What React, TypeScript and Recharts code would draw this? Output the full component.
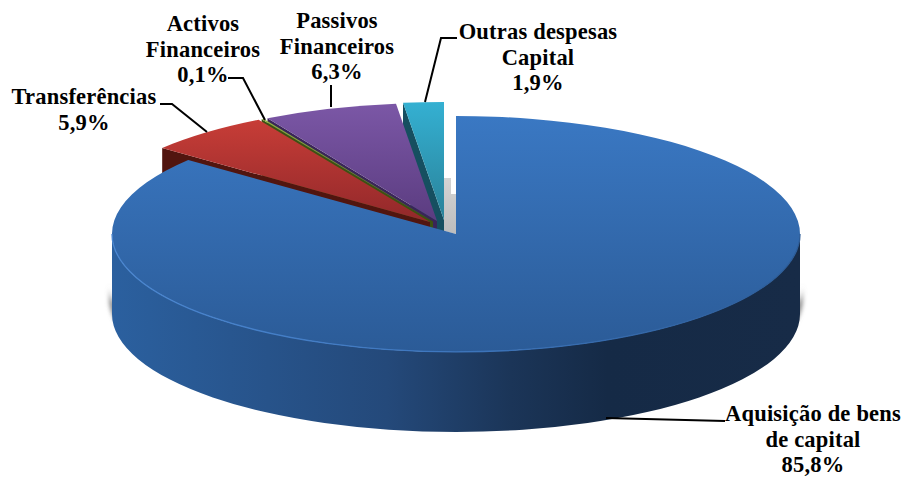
import { PieChart, Pie } from "recharts";

const sliceNames = ["Outras despesas Capital", "Passivos Financeiros", "Activos Financeiros", "Transferências", "Aquisição de bens de capital"];
const sliceValues = [1.9, 6.3, 0.1, 5.9, 85.8];

const data = sliceNames.map((name, i) => ({ name, value: sliceValues[i] }));

const WIDTH = 905;
const HEIGHT = 477;
const CX = 456;
const CY = 234;
const RX = 344;
const SQUASH = 0.343;
const DEPTH = 80;

// slice look, same order as the data
const offsets = [[-12, -14], [-19, -13], [-23, -12.5], [-26, -12], [0, 0]];
const ids = ["teal", "purple", "green", "red", "blue"];
const topColors = [["#34b0d2", "#2a8299"], ["#7b57a6", "#5b3c80"], ["#8fb33c", "#5c7a24"], ["#c73d37", "#92282a"], ["#3a78c3", "#2b5b97"]];
const faceColors = ["#164f60", "#3a2558", "#3c5212", "#51150f", "#1f4a7e"];

const labelLines = [
  ["Outras despesas", "Capital"],
  ["Passivos", "Financeiros"],
  ["Activos", "Financeiros"],
  ["Transferências"],
  ["Aquisição de bens", "de capital"],
];
const labelAnchors = [[538, 39], [337, 28], [203, 31], [84, 104], [813, 421]];
const leaders = [
  "457,38 441,38 425,102",
  "331,85 331,107",
  "228,78 243,78 265,120",
  "160,104 172,104 207,132",
  "725,421 606,418",
];

const LINE_H = 25.5;

function point(cx: number, cy: number, rx: number, angle: number) {
  const rad = (angle * Math.PI) / 180;
  return [cx + rx * Math.cos(rad), cy - rx * SQUASH * Math.sin(rad)];
}

function Slice(props: any) {
  const { startAngle, endAngle, index } = props;
  const i = index ?? sliceNames.indexOf(props.name);
  const cx = props.cx + offsets[i][0];
  const cy = props.cy + offsets[i][1];
  const rx = props.outerRadius;
  const ry = rx * SQUASH;
  const [sx, sy] = point(cx, cy, rx, startAngle);
  const [ex, ey] = point(cx, cy, rx, endAngle);
  const large = endAngle - startAngle > 180 ? 1 : 0;
  const top = `M${cx},${cy} L${sx},${sy} A${rx},${ry} 0 ${large} 0 ${ex},${ey} Z`;
  const face = `M${cx},${cy} L${ex},${ey} L${ex},${ey + DEPTH} L${cx},${cy + DEPTH} Z`;

  // front wall only exists on the lower half of the ellipse
  const wallFrom = Math.max(startAngle, 180);
  const wallTo = Math.min(endAngle, 360);
  let wall = null;
  if (wallTo > wallFrom) {
    const [ax, ay] = point(cx, cy, rx, wallFrom);
    const [bx, by] = point(cx, cy, rx, wallTo);
    const arcTop = `M${ax},${ay} A${rx},${ry} 0 0 0 ${bx},${by}`;
    const body = `${arcTop} L${bx},${by + DEPTH} A${rx},${ry} 0 0 1 ${ax},${ay + DEPTH} Z`;
    wall = (
      <g>
        <path
          d={`M${ax - 3},${ay + DEPTH * 0.6} A${rx + 3},${ry + 3} 0 0 0 ${bx + 3},${by + DEPTH * 0.6} L${bx + 3},${by + DEPTH * 0.8} A${rx + 3},${ry + 3} 0 0 1 ${ax - 3},${ay + DEPTH * 0.8} Z`}
          fill="url(#shadowFade)"
          filter="url(#pieShadow)"
        />
        <path d={body} fill="url(#wallBlue)" />
      </g>
    );
  }

  return (
    <g>
      {wall}
      <path d={face} fill={faceColors[i]} />
      <path d={top} fill={`url(#top-${ids[i]})`} />
      {wall && (
        <path
          d={`M${point(cx, cy, rx, wallFrom).join(",")} A${rx},${ry} 0 0 0 ${point(cx, cy, rx, wallTo).join(",")}`}
          fill="none"
          stroke="url(#rimBlue)"
          strokeWidth={1.3}
        />
      )}
    </g>
  );
}

function SliceLabel(props: any) {
  const i = props.index;
  const [x, y] = labelAnchors[i];
  const percent = `${sliceValues[i].toFixed(1).replace(".", ",")}%`;
  const lines = [...labelLines[i], percent];
  return (
    <g>
      <polyline points={leaders[i]} fill="none" stroke="#000" strokeWidth={2} />
      <text
        textAnchor="middle"
        fontFamily="'Liberation Serif', serif"
        fontWeight={700}
        fontSize={22.5}
        letterSpacing={0.2}
        fill="#000"
      >
        {lines.map((line, k) => (
          <tspan key={k} x={x} y={y + k * LINE_H}>
            {line}
          </tspan>
        ))}
      </text>
    </g>
  );
}

export default function App() {
  return (
    <div style={{ position: "absolute", left: 0, top: 0, width: WIDTH, height: HEIGHT, background: "#fff" }}>
      <PieChart width={WIDTH} height={HEIGHT} margin={{ top: 0, right: 0, bottom: 0, left: 0 }}>
        <defs>
          {ids.map((id, i) => (
            <linearGradient key={id} id={`top-${id}`} x1="0" y1="0" x2="0" y2="1">
              <stop offset="0" stopColor={topColors[i][0]} />
              <stop offset="1" stopColor={topColors[i][1]} />
            </linearGradient>
          ))}
          <linearGradient id="wallBlue" x1="0" y1="0" x2="1" y2="0">
            <stop offset="0" stopColor="#2b609f" />
            <stop offset="0.4" stopColor="#24497a" />
            <stop offset="0.58" stopColor="#1b3558" />
            <stop offset="0.72" stopColor="#152a46" />
            <stop offset="1" stopColor="#172b47" />
          </linearGradient>
          <linearGradient id="rimBlue" x1="0" y1="0" x2="1" y2="0">
            <stop offset="0" stopColor="#4a86d0" />
            <stop offset="0.45" stopColor="#3f78c0" />
            <stop offset="1" stopColor="#2b5b97" />
          </linearGradient>
          <linearGradient id="gapShadow" x1="0" y1="0" x2="0" y2="1">
            <stop offset="0" stopColor="#d4d4d4" />
            <stop offset="1" stopColor="#bdbdbd" />
          </linearGradient>
          <linearGradient id="shadowFade" x1="0" y1="0" x2="0" y2="1">
            <stop offset="0" stopColor="#8a8a8a" stopOpacity={0} />
            <stop offset="0.15" stopColor="#8a8a8a" stopOpacity={1} />
            <stop offset="1" stopColor="#8a8a8a" stopOpacity={1} />
          </linearGradient>
          <filter id="pieShadow" x="-5%" y="-5%" width="110%" height="115%">
            <feGaussianBlur stdDeviation="2.2" />
          </filter>
        </defs>
        <path d="M444,178 L451,178 L451,194 L456,194 L456,234 L444,231 Z" fill="url(#gapShadow)" />
        <Pie
          data={data}
          dataKey="value"
          nameKey="name"
          cx={CX}
          cy={CY}
          innerRadius={0}
          outerRadius={RX}
          startAngle={90}
          endAngle={450}
          stroke="none"
          isAnimationActive={false}
          shape={Slice}
          label={SliceLabel}
          labelLine={false}
        />
      </PieChart>
    </div>
  );
}
